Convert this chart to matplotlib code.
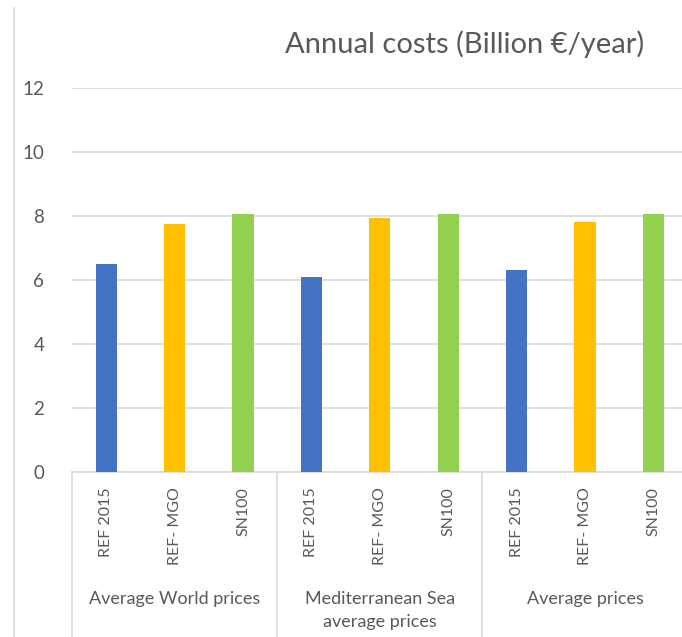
import numpy as np
import matplotlib
matplotlib.use("Agg")
import matplotlib.pyplot as plt
from matplotlib.lines import Line2D
import matplotlib.transforms as mtransforms

# ==============================
# Data
# ==============================
groups     = ["Average World prices", "Mediterranean Sea\naverage prices", "Average prices"]
scenarios  = ["REF 2015", "REF- MGO", "SN100"]
colors     = ["#4472C4", "#FFC000", "#92D050"]
ref2015    = [6.5, 6.1, 6.3]
ref_mgo    = [7.75, 7.95, 7.82]
sn100      = [8.05, 8.05, 8.05]
yticks     = [0, 2, 4, 6, 8, 10, 12]
title      = "Annual costs (Billion €/year)"

GREY_TXT  = "#595959"
GREY_LINE = "#D9D9D9"
FONT      = ["Lato", "DejaVu Sans"]

plt.rcParams["font.family"] = FONT

W, H = 682, 637
fig = plt.figure(figsize=(W / 100, H / 100), dpi=100)

# axes placement in pixels
left_px, bottom_px, slot_px, top_px = 72, 472, 68.4, 88
n_slots = len(groups) * len(scenarios)
ax = fig.add_axes([left_px / W, (H - bottom_px) / H,
                   n_slots * slot_px / W, (bottom_px - top_px) / H])

series = [ref2015, ref_mgo, sn100]
for i, vals in enumerate(series):
    xs = [g * len(scenarios) + i for g in range(len(groups))]
    ax.bar(xs, vals, width=0.31, color=colors[i], zorder=3)

ax.set_xlim(-0.5, n_slots - 0.5)
ax.set_ylim(0, 12)
ax.set_yticks(yticks)
ax.set_yticklabels([str(t) for t in yticks])
ax.tick_params(axis="y", length=0, pad=20, labelsize=13.5, labelcolor=GREY_TXT)
ax.set_xticks([])
ax.grid(axis="y", color=GREY_LINE, lw=1.2, zorder=0)
for s in ["top", "right", "left"]:
    ax.spines[s].set_visible(False)
ax.spines["bottom"].set_color(GREY_LINE)
ax.spines["bottom"].set_linewidth(1.2)

# multi-level category axis
trans = mtransforms.blended_transform_factory(ax.transData, ax.transAxes)
px_y = lambda p: -(p - bottom_px) / (bottom_px - top_px)  # pixel row -> axes y

for g in range(len(groups) + 1):
    xd = g * len(scenarios) - 0.5
    ax.add_line(Line2D([xd, xd], [0, px_y(H + 5)], transform=trans,
                       color=GREY_LINE, lw=1.2, clip_on=False))

for g, gname in enumerate(groups):
    for i, sname in enumerate(scenarios):
        xd = g * len(scenarios) + i
        ax.text(xd, px_y(487), sname, transform=trans, rotation=90,
                ha="center", va="top", fontsize=11.5, color=GREY_TXT)
    xc = g * len(scenarios) + (len(scenarios) - 1) / 2
    ax.text(xc, px_y(591), gname, transform=trans, ha="center", va="top",
            fontsize=13, color=GREY_TXT, linespacing=1.55)

# chart frame line on the left
fig.add_artist(Line2D([14 / W, 14 / W], [1 - 8 / H, 0], color=GREY_LINE, lw=1.2))

fig.text(465 / W, 1 - 44 / H, title, ha="center", va="center",
         fontsize=21, color=GREY_TXT)

fig.savefig("out.png", dpi=100)
